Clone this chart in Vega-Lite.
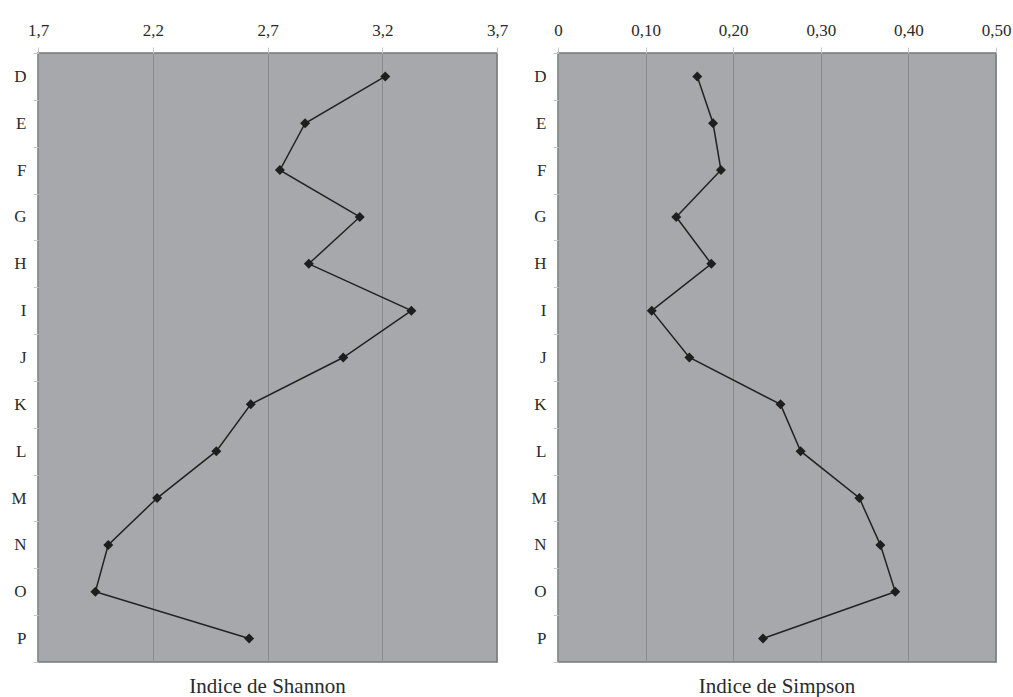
{
  "$schema": "https://vega.github.io/schema/vega-lite/v6.json",
  "background": "white",
  "padding": {"left": 10, "top": 20, "right": 0, "bottom": 0},
  "spacing": 61,
  "bounds": "flush",
  "config": {
    "font": "Liberation Serif",
    "view": {"fill": "#a7a8ac", "stroke": "#77787c", "strokeWidth": 1.5},
    "axisX": {
      "orient": "top", "grid": true, "gridColor": "#8a8b8f", "gridWidth": 1,
      "domain": false, "tickColor": "#c8c8c8", "tickSize": 6, "labelPadding": 8,
      "labelFontSize": 17, "labelColor": "#2a2a2a", "title": null, "labelFlush": false
    },
    "axisY": {
      "grid": false, "domain": false, "tickColor": "#c8c8c8", "tickSize": 5,
      "tickBand": "extent", "labelPadding": 7, "labelFontSize": 17,
      "labelColor": "#2a2a2a", "title": null, "labelAngle": 0
    }
  },
  "data": {"values": [
    {"site": "D", "i": 0, "shannon": 3.213, "simpson": 0.159},
    {"site": "E", "i": 1, "shannon": 2.864, "simpson": 0.177},
    {"site": "F", "i": 2, "shannon": 2.754, "simpson": 0.186},
    {"site": "G", "i": 3, "shannon": 3.102, "simpson": 0.135},
    {"site": "H", "i": 4, "shannon": 2.88, "simpson": 0.175},
    {"site": "I", "i": 5, "shannon": 3.327, "simpson": 0.107},
    {"site": "J", "i": 6, "shannon": 3.03, "simpson": 0.15},
    {"site": "K", "i": 7, "shannon": 2.627, "simpson": 0.254},
    {"site": "L", "i": 8, "shannon": 2.477, "simpson": 0.277},
    {"site": "M", "i": 9, "shannon": 2.219, "simpson": 0.344},
    {"site": "N", "i": 10, "shannon": 2.006, "simpson": 0.368},
    {"site": "O", "i": 11, "shannon": 1.95, "simpson": 0.385},
    {"site": "P", "i": 12, "shannon": 2.62, "simpson": 0.234}
  ]},
  "hconcat": [
    {
      "width": 459, "height": 609,
      "title": {"text": "Indice de Shannon", "orient": "bottom", "fontSize": 21, "fontWeight": "normal", "color": "#2a2a2a", "offset": 13},
      "encoding": {
        "x": {"field": "shannon", "type": "quantitative",
              "scale": {"domain": [1.7, 3.7], "nice": false, "zero": false},
              "axis": {"values": [1.7, 2.2, 2.7, 3.2, 3.7], "labelExpr": "replace(format(datum.value, '.1f'), '.', ',')"}},
        "y": {"field": "site", "type": "nominal", "sort": null,
              "scale": {"type": "band", "paddingInner": 0, "paddingOuter": 0}},
        "order": {"field": "i", "type": "quantitative"}
      },
      "layer": [
        {"mark": {"type": "line", "color": "#222222", "strokeWidth": 1.5}},
        {"mark": {"type": "point", "shape": "diamond", "filled": true, "size": 100, "color": "#1e1e1e", "opacity": 1}}
      ]
    },
    {
      "width": 438, "height": 609,
      "title": {"text": "Indice de Simpson", "orient": "bottom", "fontSize": 21, "fontWeight": "normal", "color": "#2a2a2a", "offset": 13},
      "encoding": {
        "x": {"field": "simpson", "type": "quantitative",
              "scale": {"domain": [0, 0.5], "nice": false},
              "axis": {"values": [0, 0.1, 0.2, 0.3, 0.4, 0.5], "labelExpr": "datum.value == 0 ? '0' : replace(format(datum.value, '.2f'), '.', ',')"}},
        "y": {"field": "site", "type": "nominal", "sort": null,
              "scale": {"type": "band", "paddingInner": 0, "paddingOuter": 0}},
        "order": {"field": "i", "type": "quantitative"}
      },
      "layer": [
        {"mark": {"type": "line", "color": "#222222", "strokeWidth": 1.5}},
        {"mark": {"type": "point", "shape": "diamond", "filled": true, "size": 100, "color": "#1e1e1e", "opacity": 1}}
      ]
    }
  ]
}
